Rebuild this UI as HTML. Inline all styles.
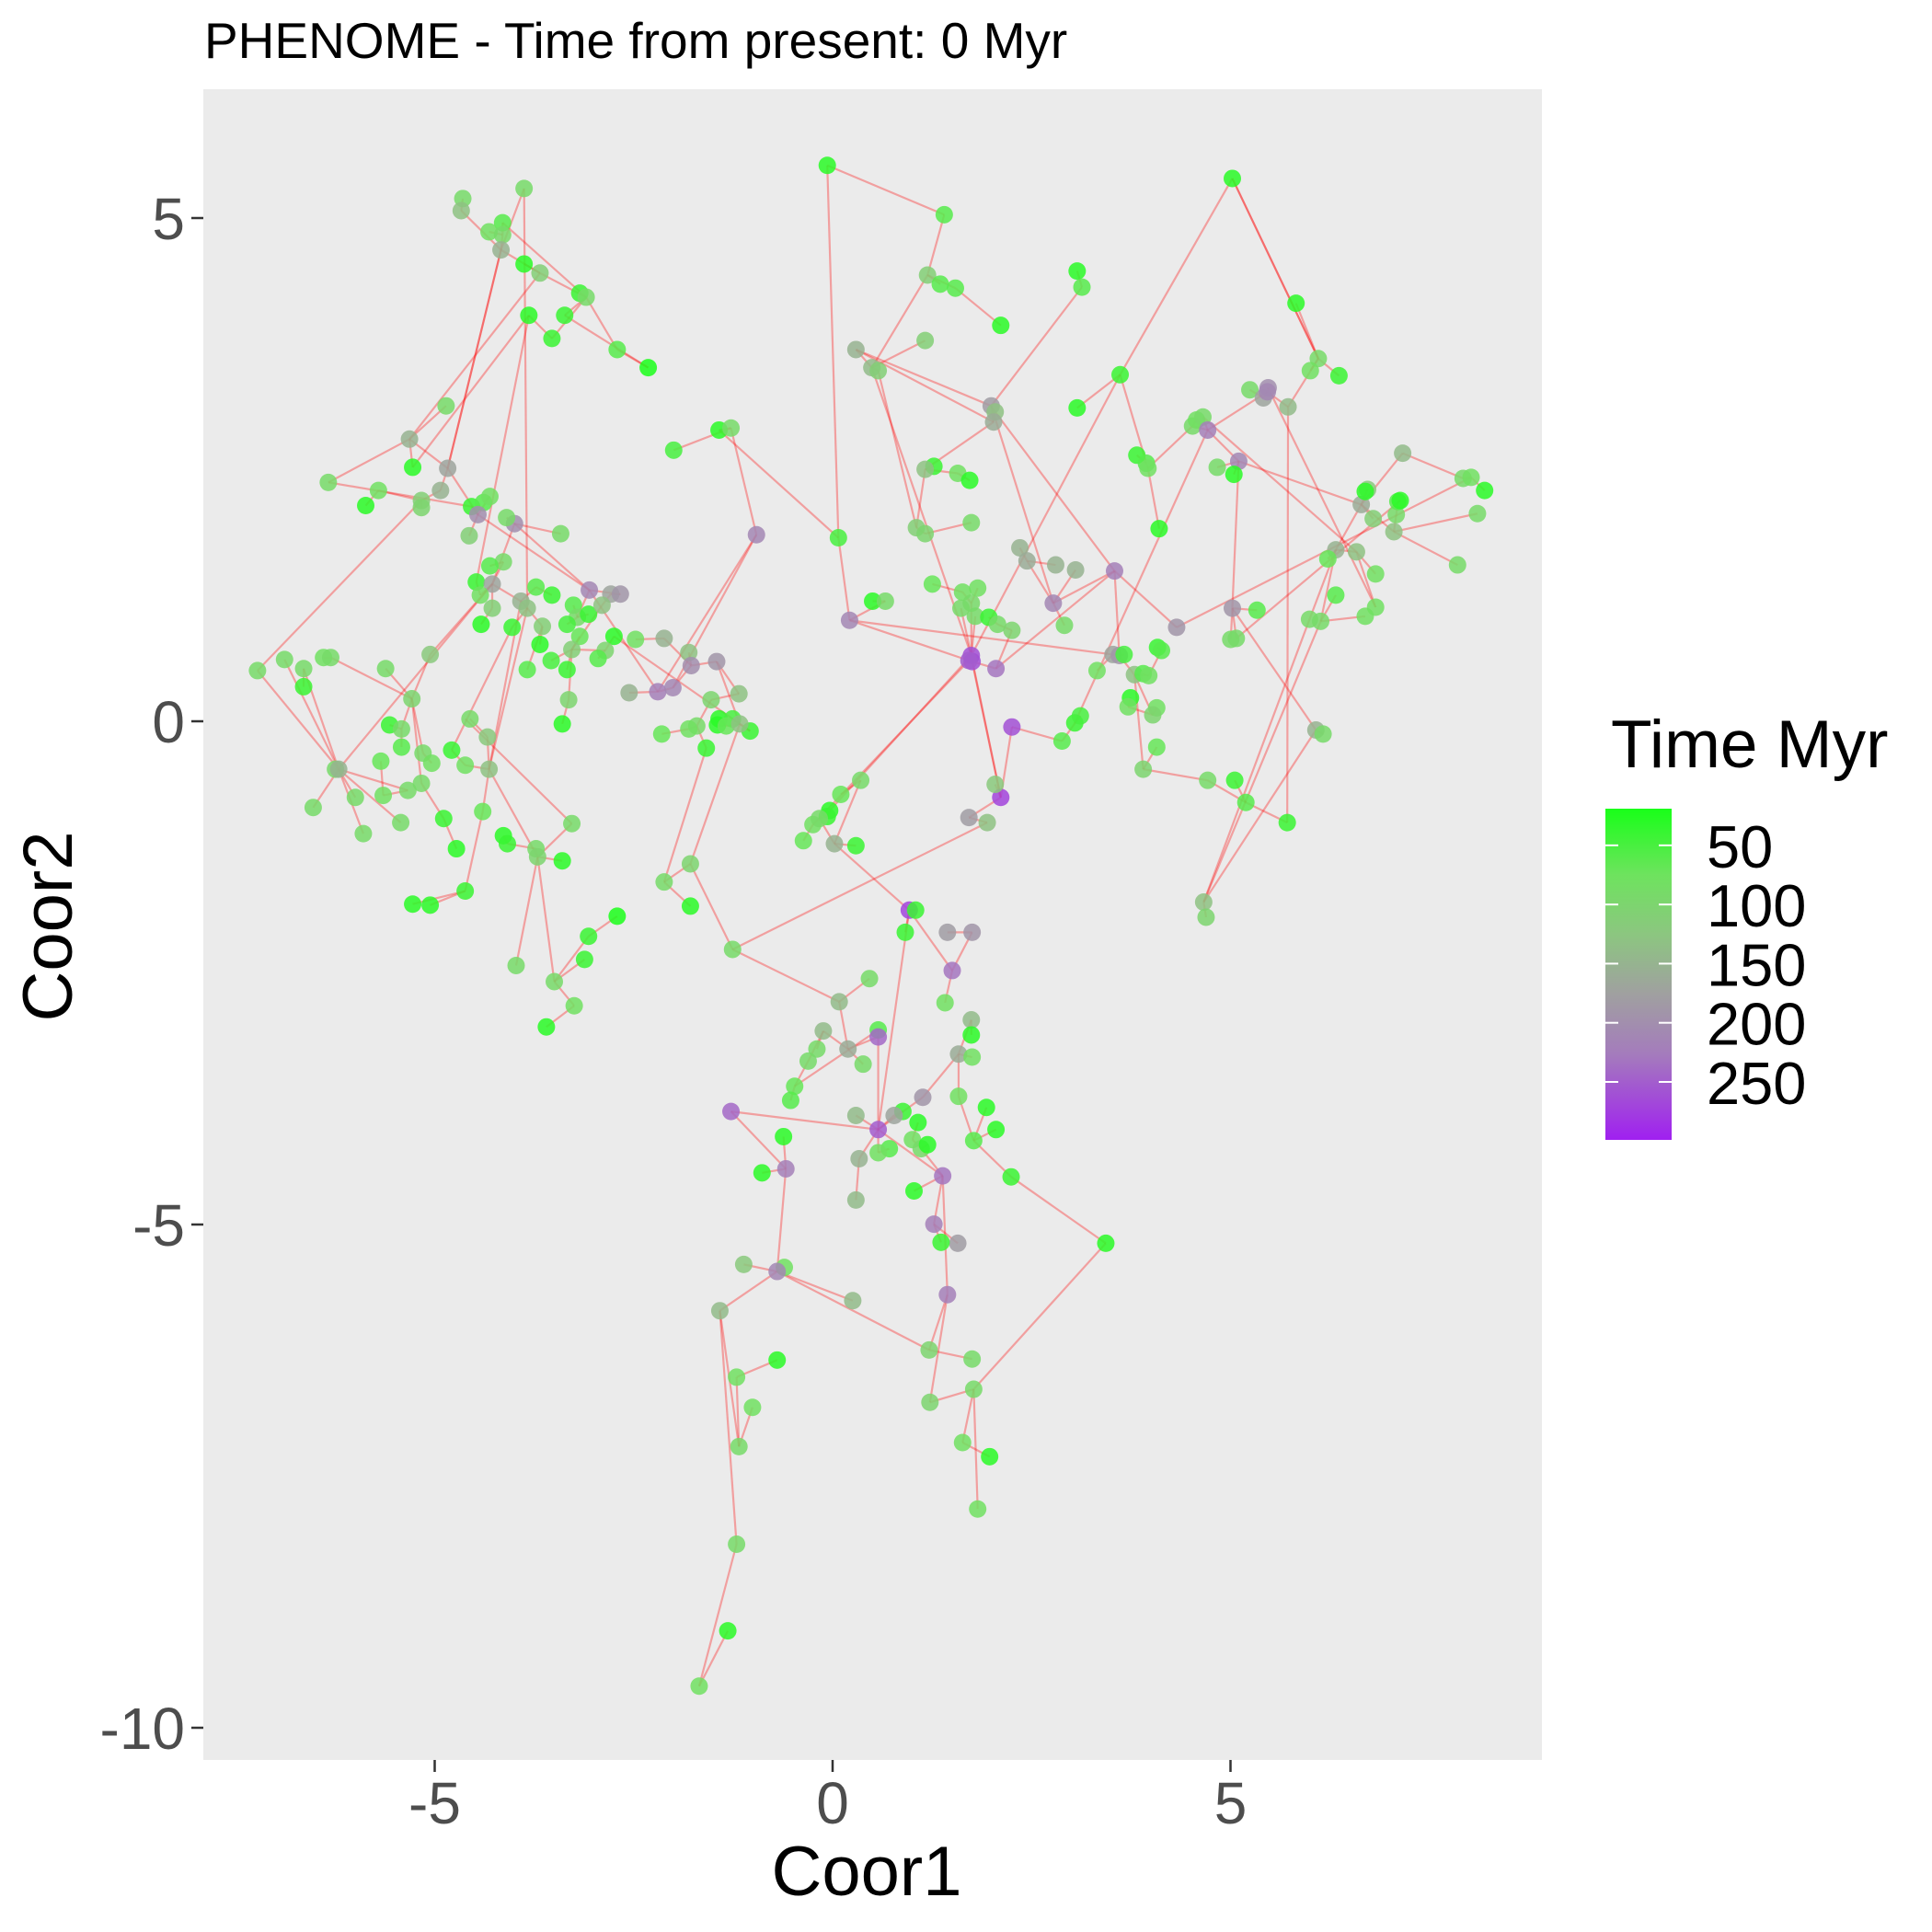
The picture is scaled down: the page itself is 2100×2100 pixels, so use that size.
<!DOCTYPE html>
<html><head><meta charset="utf-8"><style>
html,body{margin:0;padding:0;background:#fff;}
svg{display:block;font-family:"Liberation Sans",Arial,sans-serif;}
</style></head><body>
<svg id="chart" width="2100" height="2100" viewBox="0 0 2100 2100" xmlns="http://www.w3.org/2000/svg">
<defs>
<linearGradient id="cbar" x1="0" y1="0" x2="0" y2="1">
<stop offset="0" stop-color="#19ff19"/>
<stop offset="0.2" stop-color="#6ee35e"/>
<stop offset="0.38" stop-color="#8cc680"/>
<stop offset="0.56" stop-color="#a0a0a0"/>
<stop offset="0.74" stop-color="#a47cbc"/>
<stop offset="1" stop-color="#a020f0"/>
</linearGradient>
</defs>
<text x="222" y="63" font-size="55" fill="#000">PHENOME - Time from present: 0 Myr</text>
<rect x="221" y="97" width="1455" height="1816" fill="#ebebeb"/>
<g id="links"></g>
<g id="points"></g>
<g id="axes"></g>
<text x="942" y="2060" font-size="76" text-anchor="middle" fill="#000">Coor1</text>
<text transform="translate(78,1007) rotate(-90)" font-size="76" text-anchor="middle" fill="#000">Coor2</text>
<g>
<text x="1751" y="834" font-size="73" fill="#000">Time Myr</text>
<rect x="1745" y="879" width="72" height="360" fill="url(#cbar)"/>
<g id="legendTicks"></g>
</g>
</svg>
<script>
const xTicks = [-5, 0, 5];
const yTicks = [5, 0, -5, -10];
const legendTicks = [50, 100, 150, 200, 250];
const timeRange = [19, 299];
// [Coor1, Coor2, Time Myr]
const tipPoints = [
[-4.67,5.23,90],[-4.69,5.11,130],[-3.9,5.33,90],[-4.17,4.99,60],[-4.34,4.9,80],[-4.17,4.87,90],[-4.19,4.72,150],[-3.9,4.58,30],[-3.7,4.49,110],[-3.2,4.29,40],[-3.12,4.25,90],[-3.84,4.07,30],[-3.39,4.07,40],[-3.55,3.84,40],[-2.73,3.73,60],[-2.34,3.55,20],
[-4.88,3.17,90],[-5.34,2.84,150],[-5.3,2.56,30],[-4.86,2.55,170],[-4.95,2.33,150],[-6.36,2.41,90],[-5.73,2.33,80],[-5.89,2.18,30],[-5.19,2.23,110],[-5.19,2.16,100],[-4.56,2.17,40],[-4.41,2.21,60],[-4.33,2.27,80],[-4.48,2.09,200],[-4.02,2.0,200],[-4.59,1.88,110],[-4.12,2.06,90],[-4.16,1.62,90],[-4.33,1.58,60],[-3.44,1.9,90],
[-4.5,1.42,40],[-4.3,1.4,170],[-4.45,1.29,80],[-3.75,1.37,60],[-3.94,1.23,150],[-3.86,1.16,130],[-4.3,1.16,110],[-3.55,1.29,40],[-3.28,1.19,60],[-3.08,1.34,210],[-3.23,1.07,90],[-3.09,1.1,40],[-3.36,1.0,50],[-4.44,1.0,30],[-4.05,0.97,40],[-3.67,0.98,110],[-2.81,1.3,170],[-2.69,1.3,190],[-2.92,1.19,130],
[-3.2,0.88,70],[-2.77,0.88,30],[-2.5,0.85,80],[-2.88,0.74,100],[-2.97,0.66,60],[-3.3,0.75,110],[-3.7,0.8,30],[-3.86,0.55,60],[-3.56,0.64,50],[-3.36,0.55,40],[-5.08,0.7,120],[-2.14,0.86,150],[-1.83,0.72,130],[-1.48,0.63,190],[-1.8,0.59,200],[-2.58,0.32,150],[-2.22,0.33,220],[-2.03,0.37,210],[-3.34,0.25,100],[-1.2,0.31,130],[-1.55,0.25,100],[-1.45,0.06,30],[-1.47,0,30],[-1.28,0.06,50],[-1.06,-0.06,40],[-1.36,-0.01,70],[-1.73,-0.01,90],[-2.17,-0.09,70],[-1.83,-0.04,80],[-1.61,-0.23,40],[-1.19,0.01,130],[-2.02,2.73,50],[-1.45,2.93,30],[-1.3,2.95,90],[-3.42,0.01,30],
[-7.25,0.54,90],[-6.91,0.65,90],[-6.67,0.56,90],[-6.67,0.38,40],[-6.42,0.67,80],[-6.33,0.67,90],[-5.64,0.56,90],[-5.31,0.26,100],[-5.59,0,40],[-5.44,-0.04,90],[-4.58,0.06,90],[-4.36,-0.12,120],[-5.44,-0.22,60],[-5.7,-0.36,70],[-5.17,-0.28,90],[-4.81,-0.25,40],[-5.06,-0.38,80],[-6.27,-0.44,90],[-6.23,-0.44,150],[-4.64,-0.4,80],[-4.34,-0.44,130],[-5.36,-0.65,90],[-5.19,-0.58,90],[-6.02,-0.72,90],[-5.67,-0.7,80],[-6.55,-0.82,90],[-4.91,-0.93,40],[-5.45,-0.97,90],[-5.92,-1.08,90],[-4.42,-0.86,70],[-4.16,-1.1,30],[-4.11,-1.18,40],[-3.3,-0.98,90],[-4.75,-1.23,30],[-3.75,-1.23,90],[-3.73,-1.31,100],[-3.42,-1.35,30],[-4.64,-1.65,40],[-5.3,-1.78,30],[-5.08,-1.79,30],[-2.73,-1.9,20],[-3.09,-2.1,40],[-3.14,-2.33,40],[-4.0,-2.39,90],[-3.52,-2.55,90],[-3.27,-2.79,80],[-3.62,-3.0,30],[-2.14,-1.56,90],[-1.81,-1.38,100],[-1.81,-1.8,30],
[-0.09,5.56,30],[1.38,5.07,60],[1.17,4.47,110],[1.33,4.38,60],[1.52,4.34,60],[1.14,3.82,110],[2.09,3.97,30],[0.27,3.73,150],[0.47,3.55,140],[0.55,3.52,110],[1.97,3.17,180],[2.02,3.11,130],[2.0,3.01,160],[1.25,2.57,40],[1.14,2.54,130],[1.55,2.5,80],[1.7,2.43,30],[0.05,1.86,50],[-0.98,1.89,210],[1.03,1.96,110],[1.14,1.9,100],[1.72,2.01,90],[2.33,1.76,150],[2.42,1.63,160],[2.78,1.59,150],[3.03,1.54,150],[3.52,1.53,220],
[1.23,1.4,70],[1.61,1.32,80],[1.8,1.36,80],[0.48,1.23,30],[0.64,1.23,90],[1.72,1.21,90],[1.59,1.16,90],[1.77,1.08,90],[1.94,1.07,40],[2.05,1.0,90],[0.19,1.04,210],[2.75,1.21,210],[2.89,0.99,90],[2.23,0.94,100],[1.72,0.69,260],[1.73,0.63,260],[1.69,0.64,250],[2.03,0.56,230],[2.23,-0.02,260],[2.09,-0.72,270],[2.02,-0.59,120],[1.92,-0.97,130],[1.69,-0.92,180],
[2.86,-0.16,60],[3.02,0.02,40],[3.09,0.09,50],[3.3,0.54,80],[3.5,0.7,170],[3.58,0.69,190],[3.64,0.7,50],[3.77,0.5,130],[3.88,0.51,60],[3.95,0.49,80],[3.72,0.27,30],[3.69,0.18,80],[4.05,0.17,80],[4.0,0.1,100],[4.05,-0.22,70],[3.88,-0.44,100],[4.06,0.77,40],[4.11,0.74,60],[4.3,0.97,190],[4.08,1.95,30],
[3.05,3.15,30],[3.05,4.51,30],[3.11,4.35,60],[3.59,3.48,40],[3.8,2.68,40],[3.92,2.6,60],[3.94,2.55,80],[4.5,2.97,90],[4.55,3.03,80],[4.63,3.06,90],[4.69,2.93,220],[4.81,2.56,90],[5.0,5.43,30],[5.08,2.62,210],[5.02,2.49,30],[5.22,3.33,90],[5.39,3.25,170],[5.45,3.35,200],[5.44,3.31,210],[5.7,3.16,140],[5.8,4.19,30],[6.08,3.64,90],[5.98,3.52,80],[6.34,3.47,40],
[7.14,2.7,140],[6.7,2.34,120],[6.62,2.19,160],[6.77,2.05,110],[6.56,1.72,130],[6.3,1.74,150],[6.2,1.65,70],[6.8,1.5,80],[6.3,1.29,60],[7.06,2.09,90],[7.03,1.92,130],[7.08,2.22,60],[7.11,2.23,30],[6.67,2.32,30],[7.9,2.45,90],[8.0,2.46,80],[8.17,2.33,30],[8.08,2.1,90],[7.83,1.59,90],[6.8,1.17,80],[6.67,1.08,80],[5.31,1.14,60],[5.05,0.86,90],[4.98,0.85,90],[5.0,1.16,190],[5.97,1.05,90],[6.11,1.03,90],[6.05,-0.05,150],[6.14,-0.09,90],[4.69,-0.55,90],[5.03,-0.55,40],[5.17,-0.77,60],[5.69,-0.97,40],[4.64,-1.76,130],[4.67,-1.91,100],
[0.33,-0.55,90],[0.08,-0.69,70],[-0.06,-0.85,30],[-0.09,-0.91,40],[-0.27,-0.99,80],[-0.19,-0.93,90],[-0.39,-1.15,70],[0,-1.18,150],[0.27,-1.2,40],[-1.28,-2.23,90],[0.94,-1.84,270],[1.02,-1.84,40],[0.89,-2.06,40],[1.42,-2.06,180],[1.73,-2.06,190],[0.44,-2.52,90],[1.48,-2.44,230],[0.06,-2.75,140],[1.39,-2.76,80],[-0.14,-3.04,140],[0.55,-3.03,60],[0.17,-3.22,160],[0.55,-3.1,240],[-0.22,-3.22,90],[1.72,-2.93,140],[1.72,-3.08,30],[1.56,-3.27,160],[1.73,-3.3,80],
[-0.33,-3.34,90],[0.36,-3.37,90],[-0.5,-3.59,70],[-0.55,-3.73,60],[1.11,-3.7,190],[1.56,-3.69,80],[1.91,-3.8,30],[-1.3,-3.84,240],[0.27,-3.88,140],[0.86,-3.84,40],[0.75,-3.88,170],[1.05,-3.95,30],[2.03,-4.02,30],[0.55,-4.02,250],[-0.64,-4.09,30],[0.98,-4.12,80],[1.75,-4.13,60],[0.69,-4.21,60],[0.55,-4.25,80],[1.09,-4.21,90],[1.17,-4.17,30],[0.31,-4.31,150],[-0.61,-4.41,220],[-0.91,-4.45,30],[1.36,-4.48,230],[2.22,-4.49,40],[1.0,-4.63,30],[0.27,-4.72,140],[1.25,-4.96,220],[1.55,-5.15,180],[1.34,-5.14,40],[3.41,-5.15,30],
[-1.14,-5.36,120],[-0.63,-5.39,80],[-0.72,-5.43,210],[1.42,-5.66,220],[0.23,-5.72,140],[-1.44,-5.82,140],[1.19,-6.21,100],[-0.72,-6.31,30],[1.73,-6.3,90],[-1.23,-6.48,80],[1.2,-6.73,100],[-1.03,-6.78,80],[1.75,-6.6,90],[-1.2,-7.17,90],[1.61,-7.13,80],[1.95,-7.27,30],[1.8,-7.79,80],[-1.23,-8.14,90],[-1.34,-9.0,30],[-1.7,-9.55,80]
];
// long branch segments [x1,y1,x2,y2]
const longBranches = [
[-0.09,5.56,0.05,1.86],[0.05,1.86,-1.45,2.93],[-0.98,1.89,-2.03,0.37],[0.19,1.04,3.5,0.7],
[5.0,5.43,3.59,3.48],[5.0,5.43,6.08,3.64],[3.59,3.48,1.72,0.69],[1.69,0.64,-0.27,-0.99],
[-1.28,-2.23,1.92,-0.97],[3.41,-5.15,1.75,-6.6],[5.69,-0.97,5.7,3.16],[4.64,-1.76,6.11,1.03],
[4.64,-1.76,5.97,1.05],[-3.9,5.33,-3.86,1.16],[-3.84,4.07,-4.5,1.42],[-4.86,2.55,-4.19,4.72],
[-5.34,2.84,-3.7,4.49],[-6.36,2.41,-4.56,2.17],[-7.25,0.54,-5.19,2.23],[-4.34,-0.44,-3.86,1.16],
[-4.81,-0.25,-4.05,0.97],[-3.3,-0.98,-4.64,0.06],[-2.14,-1.56,-1.61,-0.23],[-0.5,-3.59,0.55,-3.03],
[-0.72,-5.43,1.19,-6.21],[0.27,3.73,2.0,3.01],[0.55,3.52,1.03,1.96],[0.47,3.55,1.72,0.69],
[7.11,2.23,5.05,0.86],[8.0,2.46,4.3,0.97],[6.56,1.72,4.63,3.06],[5.45,3.35,6.8,1.17],
[-1.28,-2.23,0.06,-2.75],[3.02,0.02,4.69,2.93],[1.72,0.69,-0.06,-0.85],[2.02,3.11,3.52,1.53],
[-4.17,4.99,-3.12,4.25],[-3.39,4.07,-2.34,3.55],[-5.3,2.56,-3.84,4.07],[-2.77,0.88,-1.06,-0.06]
];

const X = v => 907 + 86.5 * v;
const Y = v => 788 - 109.4 * v;
const NS = 'http://www.w3.org/2000/svg';
const stops = [[19,[25,255,25]],[75,[110,227,94]],[125,[140,198,128]],[175,[160,160,160]],[225,[164,124,188]],[299,[160,32,240]]];
function colorFor(t){
  for (let i=0;i<stops.length-1;i++){
    const a=stops[i], b=stops[i+1];
    if (t<=b[0]){ const f=Math.max(0,(t-a[0])/(b[0]-a[0])); const c=a[1].map((v,k)=>Math.round(v+(b[1][k]-v)*f)); return `rgb(${c.join(',')})`; }
  }
  return 'rgb(160,32,240)';
}
function mk(tag, attrs){ const e=document.createElementNS(NS,tag); for(const k in attrs) e.setAttribute(k,attrs[k]); return e; }

const linksG = document.getElementById('links');
function addLine(x1,y1,x2,y2){
  const l = mk('line',{x1:X(x1),y1:Y(y1),x2:X(x2),y2:Y(y2),stroke:'rgba(255,0,0,0.32)','stroke-width':2.2});
  
  
  linksG.appendChild(l);
}
tipPoints.forEach((p,i)=>{
  let best=-1, bd=1e9;
  tipPoints.forEach((q,j)=>{
    if (j===i || q[2] <= p[2]) return;
    const d=(q[0]-p[0])**2+(q[1]-p[1])**2;
    if (d<bd){bd=d;best=j;}
  });
  if (best>=0 && bd<9) addLine(p[0],p[1],tipPoints[best][0],tipPoints[best][1]);
});
longBranches.forEach(s=>addLine(s[0],s[1],s[2],s[3]));

const ptsG = document.getElementById('points');
tipPoints.forEach(p=>{
  const c = mk('circle',{cx:X(p[0]),cy:Y(p[1]),r:9.5,fill:colorFor(p[2]),'fill-opacity':0.85});
  
  
  ptsG.appendChild(c);
});

const axG = document.getElementById('axes');
const AX = v => 905 + 86.5 * v;
const AY = v => 784 - 109.4 * v;
xTicks.forEach(v=>{
  const t = mk('line',{x1:AX(v),x2:AX(v),y1:1913,y2:1926,stroke:'#333','stroke-width':2.5});
  
  
  axG.appendChild(t);
  const tx = mk('text',{x:AX(v),y:1982,'font-size':64,'text-anchor':'middle',fill:'#4d4d4d'});
  tx.textContent = String(v);
  
  
  axG.appendChild(tx);
});
yTicks.forEach(v=>{
  const t = mk('line',{x1:208,x2:221,y1:AY(v),y2:AY(v),stroke:'#333','stroke-width':2.5});
  
  
  axG.appendChild(t);
  const tx = mk('text',{x:201,y:AY(v)+23,'font-size':64,'text-anchor':'end',fill:'#4d4d4d'});
  tx.textContent = String(v);
  
  
  axG.appendChild(tx);
});
const lg = document.getElementById('legendTicks');
const LY = t => 879 + 360 * (t - timeRange[0]) / (timeRange[1] - timeRange[0]);
legendTicks.forEach(v=>{
  const y = LY(v);
  [[1745,1759],[1803,1817]].forEach(s=>{
    const l = mk('line',{x1:s[0],x2:s[1],y1:y,y2:y,stroke:'#fff','stroke-width':2});
    
    
    lg.appendChild(l);
  });
  const tx = mk('text',{x:1855,y:y+24,'font-size':65,fill:'#000'});
  tx.textContent = String(v);
  
  
  lg.appendChild(tx);
});
</script>
</body></html>
